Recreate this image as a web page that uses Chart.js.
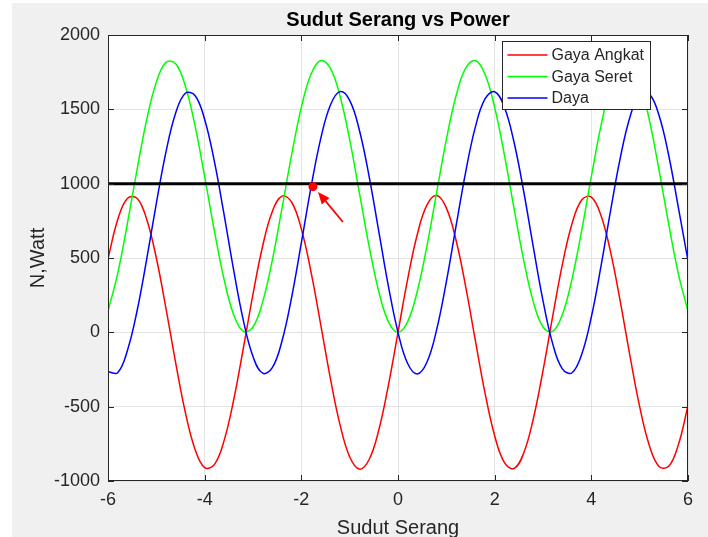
<!DOCTYPE html>
<html>
<head>
<meta charset="utf-8">
<script src="https://cdn.jsdelivr.net/npm/chart.js@4.4.0/dist/chart.umd.min.js"></script>
<style>
  html, body { margin: 0; padding: 0; background: #fff; }
  #wrap { position: absolute; left: 12px; top: 3px; width: 696px; height: 534px; background: #f0f0f0; }
</style>
</head>
<body>
<div id="wrap"><canvas id="myChart" width="696" height="534"></canvas></div>
<script>
// data (x step 0.2)
var sudut = [-6, -5.8, -5.6, -5.4, -5.2, -5, -4.8, -4.6, -4.4, -4.2, -4, -3.8, -3.6, -3.4, -3.2, -3,
  -2.8, -2.6, -2.4, -2.2, -2, -1.8, -1.6, -1.4, -1.2, -1, -0.8, -0.6, -0.4, -0.2, 0,
  0.2, 0.4, 0.6, 0.8, 1, 1.2, 1.4, 1.6, 1.8, 2, 2.2, 2.4, 2.6, 2.8, 3, 3.2, 3.4, 3.6, 3.8,
  4, 4.2, 4.4, 4.6, 4.8, 5, 5.2, 5.4, 5.6, 5.8, 6];

var gayaAngkat = [494, 757, 901, 902, 761, 500, 160, -205, -538, -786, -910, -890, -730, -455, -107, 257,
  581, 813, 916, 875, 696, 407, 54, -308, -621, -837, -920, -857, -660, -358, 0,
  358, 660, 857, 920, 837, 621, 308, -54, -407, -696, -875, -916, -813, -581, -257, 107, 455, 730, 890,
  910, 786, 538, 205, -160, -500, -761, -902, -901, -757, -494];

var gayaSeret = [143, 395, 729, 1093, 1429, 1683, 1816, 1807, 1657, 1390, 1048, 685, 358, 119, 6, 36,
  205, 486, 835, 1196, 1513, 1736, 1828, 1777, 1590, 1296, 942, 583, 278, 72, 0,
  72, 278, 583, 942, 1296, 1590, 1777, 1828, 1736, 1513, 1196, 835, 486, 205, 36, 6, 119, 358, 685,
  1048, 1390, 1657, 1807, 1816, 1683, 1429, 1093, 729, 395, 143];

var daya = [-265, -272, -124, 142, 491, 868, 1214, 1475, 1608, 1593, 1432, 1151, 795, 418, 81, -163,
  -275, -238, -58, 237, 601, 975, 1301, 1528, 1619, 1560, 1361, 1053, 684, 313, 0,
  -210, -280, -200, 18, 339, 712, 1078, 1380, 1570, 1618, 1516, 1280, 949, 573, 213, -76, -246, -272, -149,
  103, 445, 822, 1175, 1449, 1599, 1603, 1460, 1191, 841, 480];

var batasX = [-6, 6];
var batasY = [1000, 1000];
var titikX = [-1.76];
var titikY = [980];
var panahDari = [-1.14, 742];
var panahKe = [-1.655, 944];

var judul = 'Sudut Serang vs Power';
var labelX = 'Sudut Serang';
var labelY = 'N,Watt';

var fontName = '"Liberation Sans", Arial, Helvetica, sans-serif';
var axisColor = '#262626';

function toPoints(xs, ys) {
  return xs.map(function(x, i) { return { x: x, y: ys[i] }; });
}

// MATLAB look: white axes, box, inner ticks, legend box, title, arrow
var matlabFrame = {
  id: 'matlabFrame',
  beforeDraw: function(chart) {
    var ctx = chart.ctx, ca = chart.chartArea;
    ctx.save();
    ctx.fillStyle = '#fff';
    ctx.fillRect(ca.left, ca.top, ca.right - ca.left, ca.bottom - ca.top);
    ctx.restore();
  },
  afterDatasetsDraw: function(chart) {
    var ctx = chart.ctx, ca = chart.chartArea;
    var sx = chart.scales.x, sy = chart.scales.y;
    ctx.save();

    // arrow
    var x1 = sx.getPixelForValue(panahDari[0]), y1 = sy.getPixelForValue(panahDari[1]);
    var x2 = sx.getPixelForValue(panahKe[0]), y2 = sy.getPixelForValue(panahKe[1]);
    var ang = Math.atan2(y2 - y1, x2 - x1);
    ctx.strokeStyle = '#ff0000';
    ctx.fillStyle = '#ff0000';
    ctx.lineWidth = 1.8;
    ctx.beginPath();
    ctx.moveTo(x1, y1);
    ctx.lineTo(x2 - 8 * Math.cos(ang), y2 - 8 * Math.sin(ang));
    ctx.stroke();
    ctx.beginPath();
    ctx.moveTo(x2, y2);
    ctx.lineTo(x2 - 12 * Math.cos(ang) + 5 * Math.sin(ang), y2 - 12 * Math.sin(ang) - 5 * Math.cos(ang));
    ctx.lineTo(x2 - 12 * Math.cos(ang) - 5 * Math.sin(ang), y2 - 12 * Math.sin(ang) + 5 * Math.cos(ang));
    ctx.closePath();
    ctx.fill();

    // box + inner ticks
    ctx.strokeStyle = axisColor;
    ctx.lineWidth = 1;
    ctx.strokeRect(Math.round(ca.left) + 0.5, Math.round(ca.top) + 0.5,
      Math.round(ca.right - ca.left) - 1, Math.round(ca.bottom - ca.top) - 1);
    ctx.beginPath();
    sx.ticks.forEach(function(t) {
      var px = Math.round(sx.getPixelForValue(t.value)) + 0.5;
      ctx.moveTo(px, ca.bottom); ctx.lineTo(px, ca.bottom - 6);
      ctx.moveTo(px, ca.top); ctx.lineTo(px, ca.top + 6);
    });
    sy.ticks.forEach(function(t) {
      var py = Math.round(sy.getPixelForValue(t.value)) + 0.5;
      ctx.moveTo(ca.left, py); ctx.lineTo(ca.left + 6, py);
      ctx.moveTo(ca.right, py); ctx.lineTo(ca.right - 6, py);
    });
    ctx.stroke();
    ctx.restore();
  },
  afterDraw: function(chart) {
    var ctx = chart.ctx, ca = chart.chartArea;
    ctx.save();

    // legend box
    var bx = Math.round(ca.right - 186) + 0.5, by = Math.round(ca.top + 6) + 0.5;
    var bw = 148, bh = 68;
    ctx.fillStyle = '#fff';
    ctx.fillRect(bx, by, bw, bh);
    ctx.strokeStyle = axisColor;
    ctx.lineWidth = 1;
    ctx.strokeRect(bx, by, bw, bh);
    ctx.font = '16px ' + fontName;
    ctx.textBaseline = 'middle';
    ctx.textAlign = 'left';
    for (var i = 0; i < 3; i++) {
      var ds = chart.data.datasets[i];
      var ry = by + 13.5 + i * 21.5;
      ctx.strokeStyle = ds.borderColor;
      ctx.lineWidth = 1.5;
      ctx.beginPath();
      ctx.moveTo(bx + 5, ry);
      ctx.lineTo(bx + 45, ry);
      ctx.stroke();
      ctx.fillStyle = axisColor;
      ctx.fillText(ds.label, bx + 49, ry + 1);
    }

    // title
    ctx.font = 'bold 20px ' + fontName;
    ctx.textAlign = 'center';
    ctx.fillStyle = '#000';
    ctx.fillText(judul, (ca.left + ca.right) / 2, 17);
    ctx.restore();
  }
};

var ctx = document.getElementById('myChart').getContext('2d');
var myChart = new Chart(ctx, {
  type: 'line',
  data: {
    datasets: [
      { label: 'Gaya Angkat', data: toPoints(sudut, gayaAngkat), borderColor: '#ff0000',
        borderWidth: 1.5, pointRadius: 0, tension: 0.4, fill: false, order: 4 },
      { label: 'Gaya Seret', data: toPoints(sudut, gayaSeret), borderColor: '#00ff00',
        borderWidth: 1.5, pointRadius: 0, tension: 0.4, fill: false, order: 3 },
      { label: 'Daya', data: toPoints(sudut, daya), borderColor: '#0000ff',
        borderWidth: 1.5, pointRadius: 0, tension: 0.4, fill: false, order: 2 },
      { label: 'Batas', data: toPoints(batasX, batasY), borderColor: '#000000',
        borderWidth: 3, pointRadius: 0, fill: false, order: 1 },
      { label: 'Titik', data: toPoints(titikX, titikY), borderColor: '#ff0000', backgroundColor: '#ff0000',
        showLine: false, pointRadius: 4.5, pointBorderWidth: 0, order: 0 }
    ]
  },
  options: {
    responsive: false,
    animation: false,
    devicePixelRatio: 1,
    layout: { padding: { top: 32, right: 20, bottom: 0, left: 0 } },
    plugins: {
      legend: { display: false },
      tooltip: { enabled: false },
      title: { display: false }
    },
    scales: {
      x: {
        type: 'linear', min: -6, max: 6,
        ticks: { stepSize: 2, padding: 8, color: axisColor, font: { size: 18, family: fontName },
          callback: function(v) { return String(v); } },
        grid: { color: '#e3e3e3', drawTicks: false },
        border: { display: false },
        title: { display: true, text: labelX, color: axisColor, font: { size: 20, family: fontName },
          padding: { top: 0, bottom: -3 } },
        afterFit: function(s) { s.height = 56; }
      },
      y: {
        type: 'linear', min: -1000, max: 2000,
        ticks: { stepSize: 500, padding: 8, color: axisColor, font: { size: 18, family: fontName },
          callback: function(v) { return String(v); } },
        grid: { color: '#e3e3e3', drawTicks: false },
        border: { display: false },
        title: { display: true, text: labelY, color: axisColor, font: { size: 20, family: fontName },
          padding: { top: 14, bottom: 0 } },
        afterFit: function(s) { s.width = 96; }
      }
    }
  },
  plugins: [matlabFrame]
});
</script>
</body>
</html>
